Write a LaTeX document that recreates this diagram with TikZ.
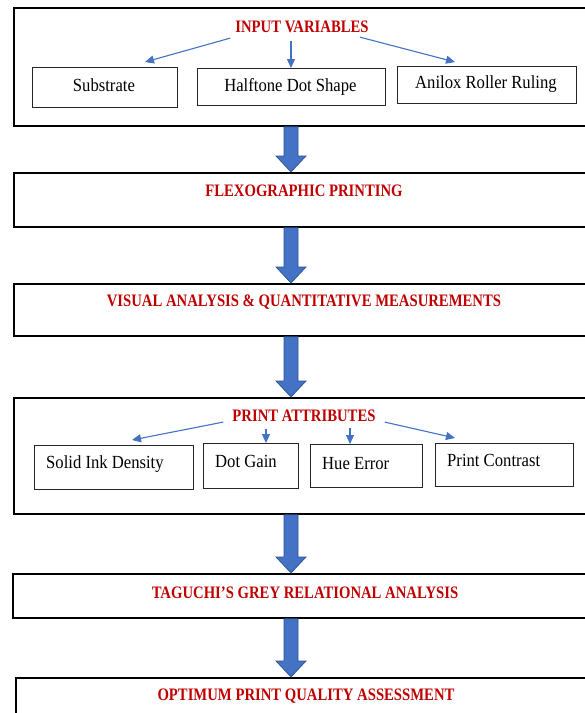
\documentclass[tikz,border=0pt]{standalone}
\usepackage{fontspec}
\setmainfont{Liberation Serif}
\newfontfamily\ttlfont[FakeStretch=0.84]{Liberation Serif}
\newfontfamily\labfont[FakeStretch=0.9]{Liberation Serif}
\usetikzlibrary{calc,arrows.meta}
\definecolor{ttlred}{HTML}{C00000}
\definecolor{ablue}{HTML}{4472C4}
\definecolor{ablueedge}{HTML}{2F528F}
\tikzset{
  bigbox/.style={draw=black, line width=1.8pt, anchor=north west, inner sep=0pt},
  subbox/.style={draw=black!85, line width=0.9pt, anchor=north west, inner sep=0pt,
    font=\labfont\fontsize{18.5}{21}\selectfont},
  ttl/.style={text=ttlred, font=\ttlfont\bfseries\fontsize{17.5}{20}\selectfont, inner sep=0pt},
  lab/.style={anchor=west, inner sep=0pt, font=\labfont\fontsize{18.5}{21}\selectfont},
  thinarrow/.style={draw=ablue, line width=1.1pt, -{Triangle[length=9pt,width=8pt]}},
  barrow/.style={fill=ablue, draw=ablueedge, line width=0.7pt, line join=miter}
}
\newcommand\blockarrow[2]{%
  \coordinate (#1top) at (#1.south -| ax);
  \coordinate (#2tip) at (#2.north -| ax);
  \path[barrow] ($(#1top)+(-7,0)$) -- ($(#2tip)+(-7,-16)$) -- ($(#2tip)+(-15,-16)$)
    -- (#2tip) -- ($(#2tip)+(15,-16)$) -- ($(#2tip)+(7,-16)$) -- ($(#1top)+(7,0)$) -- cycle;}
\begin{document}
\begin{tikzpicture}[x=1pt,y=-1pt]
\useasboundingbox (0,0) rectangle (585,713);
\clip (0,0) rectangle (585,713);
\fill[white] (0,0) rectangle (585,713);
\coordinate (ax) at (291,0);

% big boxes
\node[bigbox, minimum width=587pt, minimum height=118pt] (b1) at (13,7) {};
\node[bigbox, minimum width=587pt, minimum height=54pt] (b2) at (13,172) {};
\node[bigbox, minimum width=587pt, minimum height=52pt] (b3) at (13,283) {};
\node[bigbox, minimum width=587pt, minimum height=116pt] (b4) at (13,397) {};
\node[bigbox, minimum width=588pt, minimum height=44pt] (b5) at (12,573) {};
\node[bigbox, minimum width=585pt, minimum height=60pt] (b6) at (15,677) {};

% titles
\node[ttl] (t1) at (302,27) {INPUT VARIABLES};
\node[ttl] (t2) at (304,191) {FLEXOGRAPHIC PRINTING};
\node[ttl] (t3) at (304,302) {VISUAL ANALYSIS \& QUANTITATIVE MEASUREMENTS};
\node[ttl] (t4) at (304,416) {PRINT ATTRIBUTES};
\node[ttl] (t5) at (305,593) {TAGUCHI’S GREY RELATIONAL ANALYSIS};
\node[ttl] (t6) at (306,696) {OPTIMUM PRINT QUALITY ASSESSMENT};

% input variable boxes
\node[subbox, minimum width=145pt, minimum height=40pt] (s1) at (32,67) {};
\node[subbox, minimum width=188pt, minimum height=37pt] (s2) at (197,68) {};
\node[subbox, minimum width=179pt, minimum height=37pt] (s3) at (397,66) {};
\node[lab, anchor=center] (l1) at ($(s1.center)+(-1,-2)$) {Substrate};
\node[lab, anchor=center] (l2) at ($(s2.center)+(-1,0)$) {Halftone Dot Shape};
\node[lab, anchor=center] (l3) at ($(s3.center)+(-1,-1)$) {Anilox Roller Ruling};

% print attribute boxes
\node[subbox, minimum width=159pt, minimum height=44pt] (s4) at (34,445) {};
\node[subbox, minimum width=95pt, minimum height=45pt] (s5) at (203,443) {};
\node[subbox, minimum width=112pt, minimum height=43pt] (s6) at (310,444) {};
\node[subbox, minimum width=138pt, minimum height=43pt] (s7) at (435,443) {};
\node[lab] (l4) at ($(s4.west)+(12,-3)$) {Solid Ink Density};
\node[lab] (l5) at ($(s5.west)+(12,-4)$) {Dot Gain};
\node[lab] (l6) at ($(s6.west)+(12,-2)$) {Hue Error};
\node[lab] (l7) at ($(s7.west)+(12,-4)$) {Print Contrast};

% thin arrows
\coordinate (e1) at (145,62);
\coordinate (e3) at (455,62);
\draw[thinarrow] ($(t1.south west)+(-5,5)$) -- (e1);
\draw[thinarrow] (t1.south -| ax) ++(0,8) -- (s2.north -| ax);
\draw[thinarrow] ($(t1.south east)+(-9,4)$) -- (e3);

\coordinate (e4) at (132,440);
\coordinate (e7) at (455,438);
\draw[thinarrow] ($(t4.south west)+(-9,0)$) -- (e4);
\draw[thinarrow] (266,429) -- (s5.north -| 266,0);
\draw[thinarrow] (350,428) -- (s6.north -| 350,0);
\draw[thinarrow] ($(t4.south east)+(9,0)$) -- (e7);

% block arrows
\blockarrow{b1}{b2}
\blockarrow{b2}{b3}
\blockarrow{b3}{b4}
\blockarrow{b4}{b5}
\blockarrow{b5}{b6}
\end{tikzpicture}
\end{document}
